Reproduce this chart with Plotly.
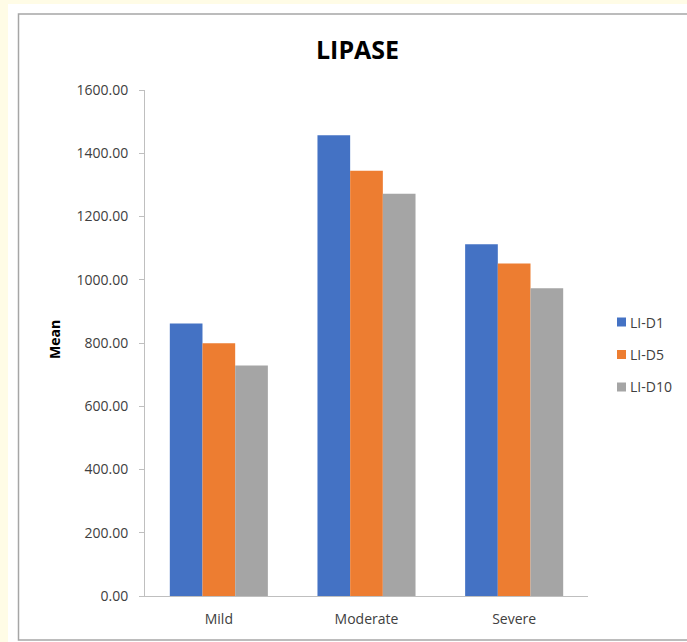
import plotly.graph_objects as go

# Mean lipase by severity group and day
categories = ["Mild", "Moderate", "Severe"]
series_names = ["LI-D1", "LI-D5", "LI-D10"]
li_d1 = [862, 1457, 1112]
li_d5 = [799, 1345, 1051]
li_d10 = [729, 1272, 973]
series_values = [li_d1, li_d5, li_d10]
colors = ["#4472C4", "#ED7D31", "#A5A5A5"]
y_ticks = [0, 200, 400, 600, 800, 1000, 1200, 1400, 1600]

FONT = "'Open Sans', Lato, Arial, sans-serif"
TEXT_COLOR = "#404040"

fig = go.Figure()
for name, vals, col in zip(series_names, series_values, colors):
    fig.add_trace(go.Bar(
        x=categories, y=vals, name=name,
        marker=dict(color=col, line=dict(width=0)),
        showlegend=False,
    ))

W, H = 687, 642
L, R, T, B = 145, 99, 90, 46
pw, ph = W - L - R, H - T - B


def px_x(p):
    return (p - L) / pw


def px_y(p):
    return (H - B - p) / ph


shapes = [
    # white card on cream page
    dict(type="rect", xref="paper", yref="paper", layer="below",
         x0=px_x(8), x1=px_x(700), y0=px_y(660), y1=px_y(4),
         fillcolor="white", line=dict(width=0)),
    # chart border
    dict(type="rect", xref="paper", yref="paper", layer="below",
         x0=px_x(18.5), x1=px_x(700), y0=px_y(640), y1=px_y(14),
         fillcolor="white", line=dict(color="#A6A6A6", width=1.5)),
]

annotations = [
    dict(text="<b>LIPASE</b>", xref="paper", yref="paper",
         x=px_x(357), y=px_y(49), xanchor="center", yanchor="middle",
         showarrow=False, font=dict(family=FONT, size=25, color="#000000")),
    dict(text="<b>Mean</b>", xref="paper", yref="paper",
         x=px_x(54), y=px_y(340), xanchor="center", yanchor="middle",
         textangle=-90, showarrow=False,
         font=dict(family=FONT, size=14, color="#000000")),
]

# legend: small colour key squares with series names
legend_top = 322
legend_step = 32.5
for i, (name, col) in enumerate(zip(series_names, colors)):
    cy = legend_top + i * legend_step
    shapes.append(dict(type="rect", xref="paper", yref="paper",
                       x0=px_x(617), x1=px_x(626),
                       y0=px_y(cy + 4.5), y1=px_y(cy - 4.5),
                       fillcolor=col, line=dict(width=0)))
    annotations.append(dict(text=name, xref="paper", yref="paper",
                            x=px_x(628), y=px_y(cy), xanchor="left",
                            yanchor="middle", showarrow=False,
                            font=dict(family=FONT, size=14, color=TEXT_COLOR)))

fig.update_layout(
    width=W, height=H,
    margin=dict(l=L, r=R, t=T, b=B, autoexpand=False),
    paper_bgcolor="#FFFCE6",
    plot_bgcolor="white",
    font=dict(family=FONT, size=14, color=TEXT_COLOR),
    barmode="group",
    bargap=0.336,
    bargroupgap=0,
    shapes=shapes,
    annotations=annotations,
    showlegend=False,
    xaxis=dict(
        showline=True, linecolor="#BFBFBF", linewidth=1,
        ticks="", showgrid=False,
        tickfont=dict(family=FONT, size=14, color=TEXT_COLOR),
        ticklabelstandoff=10,
    ),
    yaxis=dict(
        range=[0, 1600], tickvals=y_ticks, tickformat=".2f",
        showline=True, linecolor="#BFBFBF", linewidth=1,
        ticks="outside", ticklen=5, tickcolor="#BFBFBF",
        showgrid=False, zeroline=False,
        tickfont=dict(family=FONT, size=14, color=TEXT_COLOR),
        ticklabelstandoff=8,
    ),
)

fig.write_html("out.html")
